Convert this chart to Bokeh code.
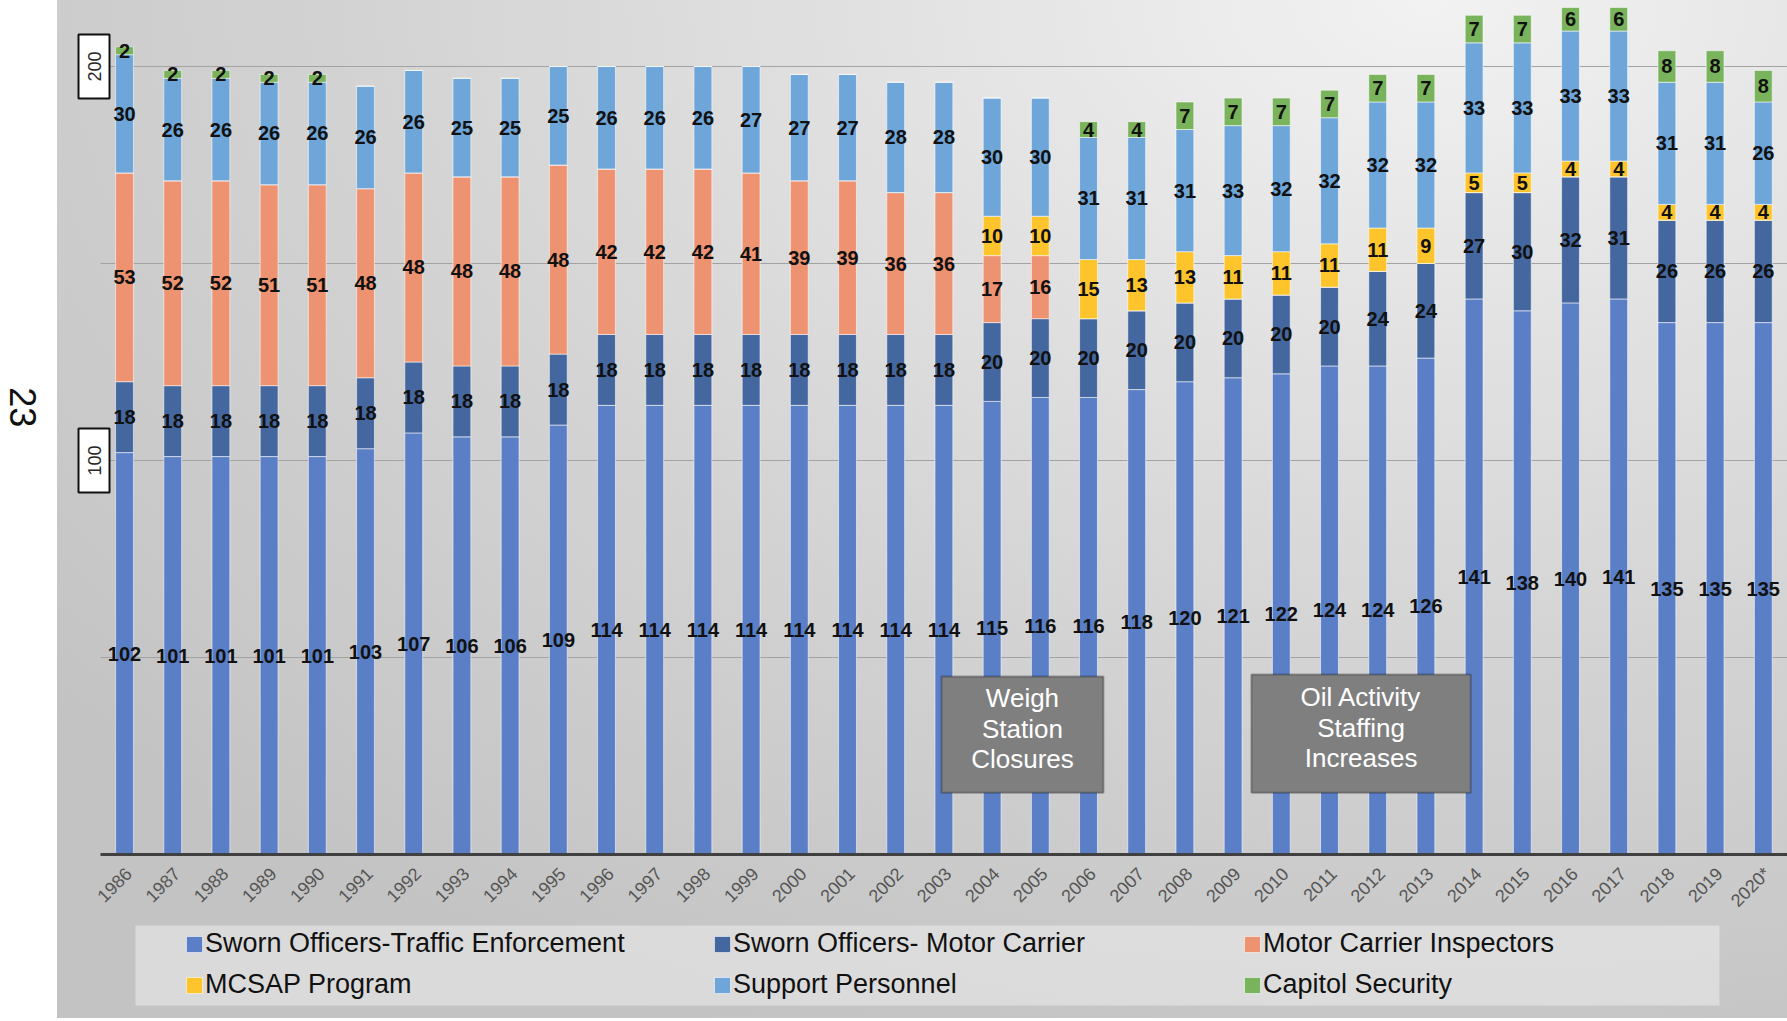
import math
import numpy as np
from bokeh.plotting import figure
from bokeh.models import (ColumnDataSource, Range1d, Legend, LegendItem,
                          BoxAnnotation, Label)
from bokeh.core.properties import value
from bokeh.embed import file_html
from bokeh.resources import INLINE

# ---------------- data ----------------
years = ["1986", "1987", "1988", "1989", "1990", "1991", "1992", "1993", "1994", "1995",
         "1996", "1997", "1998", "1999", "2000", "2001", "2002", "2003", "2004", "2005",
         "2006", "2007", "2008", "2009", "2010", "2011", "2012", "2013", "2014", "2015",
         "2016", "2017", "2018", "2019", "2020*"]

traffic = [102, 101, 101, 101, 101, 103, 107, 106, 106, 109,
           114, 114, 114, 114, 114, 114, 114, 114, 115, 116,
           116, 118, 120, 121, 122, 124, 124, 126, 141, 138,
           140, 141, 135, 135, 135]
motor_carrier = [18, 18, 18, 18, 18, 18, 18, 18, 18, 18,
                 18, 18, 18, 18, 18, 18, 18, 18, 20, 20,
                 20, 20, 20, 20, 20, 20, 24, 24, 27, 30,
                 32, 31, 26, 26, 26]
inspectors = [53, 52, 52, 51, 51, 48, 48, 48, 48, 48,
              42, 42, 42, 41, 39, 39, 36, 36, 17, 16,
              0, 0, 0, 0, 0, 0, 0, 0, 0, 0,
              0, 0, 0, 0, 0]
mcsap = [0, 0, 0, 0, 0, 0, 0, 0, 0, 0,
         0, 0, 0, 0, 0, 0, 0, 0, 10, 10,
         15, 13, 13, 11, 11, 11, 11, 9, 5, 5,
         4, 4, 4, 4, 4]
support = [30, 26, 26, 26, 26, 26, 26, 25, 25, 25,
           26, 26, 26, 27, 27, 27, 28, 28, 30, 30,
           31, 31, 31, 33, 32, 32, 32, 32, 33, 33,
           33, 33, 31, 31, 26]
capitol = [2, 2, 2, 2, 2, 0, 0, 0, 0, 0,
           0, 0, 0, 0, 0, 0, 0, 0, 0, 0,
           4, 4, 7, 7, 7, 7, 7, 7, 7, 7,
           6, 6, 8, 8, 8]

series_names = ["Sworn Officers-Traffic Enforcement", "Sworn Officers- Motor Carrier",
                "Motor Carrier Inspectors", "MCSAP Program", "Support Personnel",
                "Capitol Security"]
series_keys = ["traffic", "motor_carrier", "inspectors", "mcsap", "support", "capitol"]
colors = ["#5a7fc7", "#45679f", "#ee9371", "#fdc52b", "#6fa6da", "#79b35b"]

grid_values = [50, 100, 150, 200]
boxed_ticks = [100, 200]
notes = ["Weigh\nStation\nClosures", "Oil Activity\nStaffing\nIncreases"]
page_number = "23"

# ---------------- layout constants ----------------
FONT = "Liberation Sans"
W, H = 1787, 1018
n = len(years)
x_idx = list(range(n))
X_LEFT, X_RIGHT = -2.573, 34.502      # whole canvas is the plot frame
Y_BOTTOM, Y_TOP = -41.62, 216.75
GRID_START = -0.498

bg = ("linear-gradient(to right, #ffffff 0px, #ffffff 57px, transparent 57px), "
      "radial-gradient(ellipse 100% 110% at 80% 0%, #f2f2f2 0%, #e2e2e2 30%, "
      "#d3d3d3 60%, #c3c3c3 100%)")

p = figure(width=W, height=H, output_backend="svg", toolbar_location=None,
           x_range=Range1d(X_LEFT, X_RIGHT), y_range=Range1d(Y_BOTTOM, Y_TOP),
           x_axis_location=None, y_axis_location=None,
           min_border_left=0, min_border_right=0, min_border_top=0, min_border_bottom=0,
           background_fill_alpha=0, border_fill_alpha=0, outline_line_color=None,
           styles={"background": bg})
p.grid.visible = False

src = ColumnDataSource(dict(x=x_idx, traffic=traffic, motor_carrier=motor_carrier,
                            inspectors=inspectors, mcsap=mcsap, support=support,
                            capitol=capitol))

# legend background box
p.add_layout(BoxAnnotation(left=0.228, right=33.09, top=-18.0, bottom=-38.3,
                           fill_color="#ececec", fill_alpha=0.55, line_color=None,
                           level="underlay"))

# grid lines and baseline
p.segment(x0=GRID_START, x1=X_RIGHT, y0=grid_values, y1=grid_values,
          line_color="#a3a3a3", line_width=1)

rends = p.vbar_stack(series_keys, x="x", width=0.37, color=colors, source=src,
                     line_color="white", line_alpha=0.55, line_width=1)

p.segment(x0=GRID_START, x1=X_RIGHT, y0=0, y1=0, line_color="#404040", line_width=3)

# category labels along the baseline
p.text(x=x_idx, y=[0] * n, text=years, angle=math.pi / 4, text_align="right",
       text_baseline="middle", x_offset=4, y_offset=16, text_font=value(FONT),
       text_font_size="18px", text_color="#555555")

# segment labels
stack = np.array([traffic, motor_carrier, inspectors, mcsap, support, capitol], dtype=float)
bottoms = np.vstack([np.zeros(n), np.cumsum(stack, axis=0)[:-1]])
mids = bottoms + stack / 2
mask = (stack > 0).ravel()
lab = ColumnDataSource(dict(
    x=np.tile(x_idx, len(series_keys))[mask],
    y=mids.ravel()[mask],
    t=[str(int(v)) for v in stack.ravel()[mask]]))
p.text(x="x", y="y", text="t", source=lab, text_align="center", text_baseline="middle",
       text_font=value(FONT), text_font_style="bold", text_font_size="20px",
       text_color="#111111")

# boxed value marks on the left
for v in boxed_ticks:
    lb = Label(x=-0.633, y=v, text=str(v), angle=math.pi / 2, text_align="center",
               text_baseline="middle", text_font=FONT, text_font_size="18px",
               text_color="#262626", background_fill_color="white",
               border_line_color="#111111", border_line_width=2)
    try:
        lb.padding = dict(left=17, right=17, top=9, bottom=9)
    except Exception:
        lb.padding = 9
    p.add_layout(lb)

# page number
p.add_layout(Label(x=-2.116, y=113.5, text=page_number, angle=-math.pi / 2,
                   text_align="center", text_baseline="middle", text_font=FONT,
                   text_font_size="36px", text_color="#111111"))

# note boxes
note_boxes = [(16.95, 20.31, 15.7, 45.2), (23.38, 27.93, 15.7, 45.7)]
for txt, (l, r, b, t) in zip(notes, note_boxes):
    p.add_layout(BoxAnnotation(left=l, right=r, bottom=b, top=t, fill_color="#7f7f7f",
                               fill_alpha=1, line_color="#111111", line_width=2))
    p.add_layout(Label(x=(l + r) / 2, y=(b + t) / 2 + 1.5, text=txt, text_align="center",
                       text_baseline="middle", text_font=FONT, text_font_size="26px",
                       text_color="white", text_line_height=1.02))

# legend: three columns of two items
leg_x = [184, 712, 1242]
for c in range(3):
    items = [LegendItem(label=series_names[c], renderers=[rends[c]]),
             LegendItem(label=series_names[c + 3], renderers=[rends[c + 3]])]
    leg = Legend(items=items, location=(leg_x[c], 18), orientation="vertical",
                 glyph_width=20, glyph_height=20, label_standoff=1, label_height=30,
                 spacing=10, padding=0, margin=0, background_fill_alpha=0,
                 border_line_color=None, label_text_font=FONT,
                 label_text_font_size="27px", label_text_color="#111111")
    p.add_layout(leg, "center")

open("out.html", "w").write(file_html(p, INLINE))
